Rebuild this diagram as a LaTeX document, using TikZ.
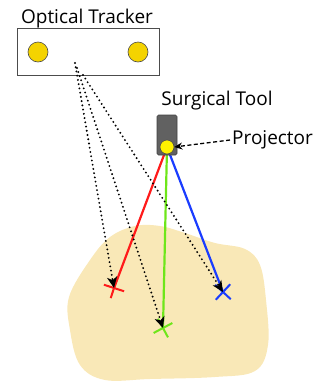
\documentclass[tikz,border=0pt]{standalone}
\usepackage{fontspec}
\setmainfont{Open Sans}
\usepackage{xcolor}
\usepackage{tikz}
\usetikzlibrary{arrows.meta,shapes.misc}

\definecolor{skin}{HTML}{F9E8B7}
\definecolor{lens}{HTML}{F4D300}
\definecolor{bulb}{HTML}{FFF200}
\definecolor{rayred}{HTML}{FF1A1A}
\definecolor{raygreen}{HTML}{6EE61A}
\definecolor{rayblue}{HTML}{1A3CFF}

\tikzset{
  label text/.style={font=\fontsize{19}{22}\selectfont, anchor=base, inner sep=0pt},
  camera/.style={circle, draw=black!70, fill=lens, line width=0.6pt, minimum size=20pt, inner sep=0pt},
  ray/.style={line width=2.2pt},
  track/.style={line width=2.1pt, line cap=round, dash pattern=on 0pt off 4.3pt,
                -{Stealth[length=11pt,width=10pt,inset=3pt]}},
  spot/.style={cross out, draw, line width=2pt, minimum size=13pt, inner sep=0pt}
}

\begin{document}
\begin{tikzpicture}[x=1pt, y=-1pt]
\useasboundingbox (0,0) rectangle (320,381);
% tissue region
\fill[skin] plot[smooth cycle, tension=0.6] coordinates {
  (69,297) (90,260) (110,237) (135,226) (160,226) (185,233) (215,243)
  (245,249) (260,265) (266,300) (268,345) (255,371) (215,377) (150,379)
  (105,380) (80,365) (70,330)};
% optical tracker
\node[draw=black!70, fill=white, line width=0.6pt, minimum width=142pt, minimum height=47pt,
      inner sep=0pt] (tracker) at (88,51.5) {};
\node[camera] (camL) at (38,52) {};
\node[camera] (camR) at (138,52) {};
\node[label text] (trackerlabel) at (87,23) {Optical Tracker};
% markers seen by the tracker
\coordinate (trkA) at (75,63);
\coordinate (trkB) at (77,68);
\coordinate (trkC) at (83,75);
% projected spots
\node[spot, rayred, rotate=27] (spotR) at (114,288) {};
\node[spot, raygreen, rotate=-17] (spotG) at (163,328) {};
\node[spot, rayblue, rotate=2] (spotB) at (223,292) {};
% rays from the projector
\coordinate (lensc) at (167,147);
\draw[ray, rayred] (lensc) -- (spotR.center);
\draw[ray, raygreen] (lensc) -- (spotG.center);
\draw[ray, rayblue] (lensc) -- (spotB.center);
% surgical tool with projector
\node[draw=black!75, fill=black!62, rounded corners=1.5pt, line width=0.6pt,
      minimum width=20pt, minimum height=40pt, inner sep=0pt] (tool) at (167,135) {};
\node[circle, draw=black!70, fill=bulb, line width=0.6pt, minimum size=14pt, inner sep=0pt]
      (proj) at (lensc) {};
\node[label text] (toollabel) at (217,105) {Surgical Tool};
\node[label text, anchor=base west] (projlabel) at (232,144) {Projector};
\draw[line width=1.3pt, dash pattern=on 4pt off 2.5pt, -{Stealth[length=8pt,width=7pt]}]
  (projlabel.base west) ++(-2,-4) coordinate (projtail) -- (proj.east);
% tracking lines
\draw[track] (trkA) -- (spotR.center);
\draw[track] (trkB) -- (spotG.center);
\draw[track] (trkC) -- (spotB.center);
\end{tikzpicture}
\end{document}
